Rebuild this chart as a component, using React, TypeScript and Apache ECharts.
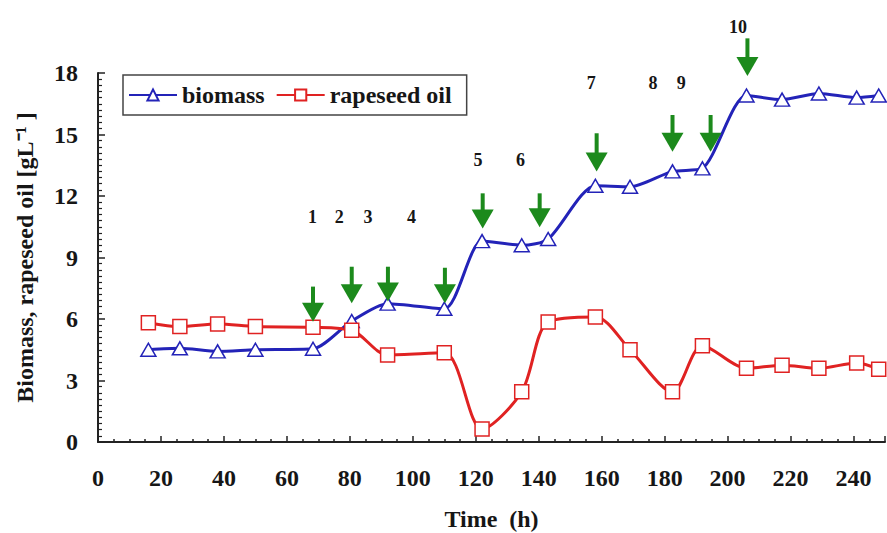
import React, { useEffect, useRef } from "react";
import * as echarts from "echarts";

// Sampling times (h)
const hours = [16, 26, 38, 50, 68.3, 80.6, 92, 110, 122, 134.6, 143, 158, 169, 182.5, 192, 206, 217.3, 229, 241, 248];
// Biomass [g/L]
const biomass = [4.5, 4.57, 4.42, 4.5, 4.55, 5.9, 6.75, 6.5, 9.8, 9.6, 9.9, 12.5, 12.45, 13.2, 13.35, 16.9, 16.7, 17.0, 16.8, 16.9];
// Rapeseed oil [g/L]
const rapeseedOil = [5.82, 5.63, 5.76, 5.63, 5.6, 5.45, 4.25, 4.35, 0.63, 2.45, 5.85, 6.1, 4.5, 2.45, 4.7, 3.6, 3.75, 3.6, 3.85, 3.55];

// Feeding arrows: time (h), top of shaft, tip level
const arrowHours = [68.3, 80.6, 92.1, 110.2, 122.2, 140.3, 158.4, 182.5, 194.6, 206.3];
const arrowTop = [7.58, 8.55, 8.55, 8.5, 12.13, 12.13, 15.06, 15.95, 15.95, 19.69];
const arrowTip = [5.87, 6.77, 6.85, 6.77, 10.42, 10.47, 13.19, 14.16, 14.16, 17.85];

// Arrow numbers
const markerLabels = ["1", "2", "3", "4", "5", "6", "7", "8", "9", "10"];
const labelHours = [68.1, 76.6, 85.8, 99.6, 120.7, 134.2, 156.7, 176.3, 185.3, 203.3];
const labelLevel = [10.99, 10.99, 10.99, 10.99, 13.76, 13.76, 17.5, 17.5, 17.5, 20.26];

const X_MIN = 0;
const X_MAX = 250;
const X_STEP = 20;
const Y_MIN = 0;
const Y_MAX = 18;
const Y_STEP = 3;

const SERIF = "Liberation Serif, serif";
const GREEN = "#1c8a1c";
const BLUE = "#2323b8";
const RED = "#e02222";
const INK = "#161616";

export default function App() {
  const ref = useRef<HTMLDivElement>(null);

  useEffect(() => {
    if (!ref.current) return;
    const chart = echarts.init(ref.current, undefined, { renderer: "svg" });

    const option: any = {
      animation: false,
      backgroundColor: "#ffffff",
      textStyle: { fontFamily: SERIF },
      grid: { left: 98, right: 2, top: 73, bottom: 91, containLabel: false, outerBoundsMode: "none" },
      legend: {
        show: true,
        left: 123,
        top: 75,
        orient: "horizontal",
        data: ["biomass", "rapeseed oil"],
        itemWidth: 48,
        itemHeight: 14,
        itemGap: 11,
        padding: [8, 15, 8, 5],
        borderColor: "#444",
        borderWidth: 1.5,
        borderRadius: 0,
        backgroundColor: "#ffffff",
        textStyle: { fontFamily: SERIF, fontSize: 24, fontWeight: "bold", color: INK },
      },
      xAxis: {
        type: "value",
        min: X_MIN,
        max: X_MAX,
        interval: X_STEP,
        name: "Time  (h)",
        nameLocation: "middle",
        nameGap: 65,
        nameTextStyle: { fontFamily: SERIF, fontSize: 24, fontWeight: "bold", color: INK },
        axisLine: { show: true, onZero: false, lineStyle: { color: "#222", width: 2 } },
        axisTick: { show: true, inside: true, length: 6, lineStyle: { color: "#222", width: 1.5 } },
        minorTick: { show: true, splitNumber: 4, length: 3, lineStyle: { color: "#222", width: 1.5 } },
        splitLine: { show: false },
        minorSplitLine: { show: false },
        axisLabel: {
          show: true,
          margin: 24,
          showMaxLabel: false,
          fontFamily: SERIF,
          fontSize: 24,
          fontWeight: "bold",
          color: INK,
        },
      },
      yAxis: {
        type: "value",
        min: Y_MIN,
        max: Y_MAX,
        interval: Y_STEP,
        name: "Biomass, rapeseed oil [gL\u207B\u00B9 ]",
        nameLocation: "middle",
        nameGap: 61,
        nameTextStyle: { fontFamily: SERIF, fontSize: 24, fontWeight: "bold", color: INK },
        axisLine: { show: true, onZero: false, lineStyle: { color: "#222", width: 2 } },
        axisTick: { show: true, inside: true, length: 7, lineStyle: { color: "#222", width: 1.5 } },
        minorTick: { show: true, splitNumber: 10, length: 4, lineStyle: { color: "#222", width: 1.2 } },
        splitLine: { show: false },
        minorSplitLine: { show: false },
        axisLabel: {
          show: true,
          margin: 20,
          fontFamily: SERIF,
          fontSize: 24,
          fontWeight: "bold",
          color: INK,
        },
      },
      series: [
        {
          name: "biomass",
          type: "line",
          data: hours.map((h, i) => [h, biomass[i]]),
          smooth: 0.25,
          symbol: "triangle",
          symbolSize: [15, 13],
          lineStyle: { color: BLUE, width: 3 },
          itemStyle: { color: "#ffffff", borderColor: BLUE, borderWidth: 1.5 },
          z: 3,
        },
        {
          name: "rapeseed oil",
          type: "line",
          data: hours.map((h, i) => [h, rapeseedOil[i]]),
          smooth: 0.3,
          symbol: "rect",
          symbolSize: 14,
          lineStyle: { color: RED, width: 3 },
          itemStyle: { color: "#ffffff", borderColor: RED, borderWidth: 1.5 },
          z: 3,
        },
        {
          name: "feeds",
          type: "custom",
          clip: false,
          z: 5,
          data: arrowHours.map((h, i) => [h, arrowTop[i], arrowTip[i]]),
          encode: { x: 0, y: [1, 2] },
          renderItem: (params: any, api: any) => {
            const h = api.value(0);
            const top = api.coord([h, api.value(1)]);
            const tip = api.coord([h, api.value(2)]);
            const headH = 19;
            const headW = 22;
            return {
              type: "group",
              children: [
                {
                  type: "rect",
                  shape: { x: top[0] - 2, y: top[1], width: 4, height: tip[1] - headH - top[1] + 1 },
                  style: { fill: GREEN },
                },
                {
                  type: "polygon",
                  shape: {
                    points: [
                      [tip[0] - headW / 2, tip[1] - headH],
                      [tip[0] + headW / 2, tip[1] - headH],
                      [tip[0], tip[1]],
                    ],
                  },
                  style: { fill: GREEN },
                },
              ],
            };
          },
        },
        {
          name: "numbers",
          type: "custom",
          clip: false,
          z: 5,
          data: labelHours.map((h, i) => [h, labelLevel[i]]),
          encode: { x: 0, y: 1 },
          renderItem: (params: any, api: any) => {
            const p = api.coord([api.value(0), api.value(1)]);
            return {
              type: "text",
              x: p[0],
              y: p[1],
              style: {
                text: markerLabels[params.dataIndex],
                fontFamily: SERIF,
                fontSize: 18,
                fontWeight: "bold",
                fill: INK,
                align: "center",
                verticalAlign: "middle",
              },
            };
          },
        },
      ],
    };

    chart.setOption(option);
    return () => chart.dispose();
  }, []);

  return (
    <div
      ref={ref}
      style={{ position: "absolute", left: 0, top: 0, width: 887, height: 533, background: "#fff" }}
    />
  );
}
